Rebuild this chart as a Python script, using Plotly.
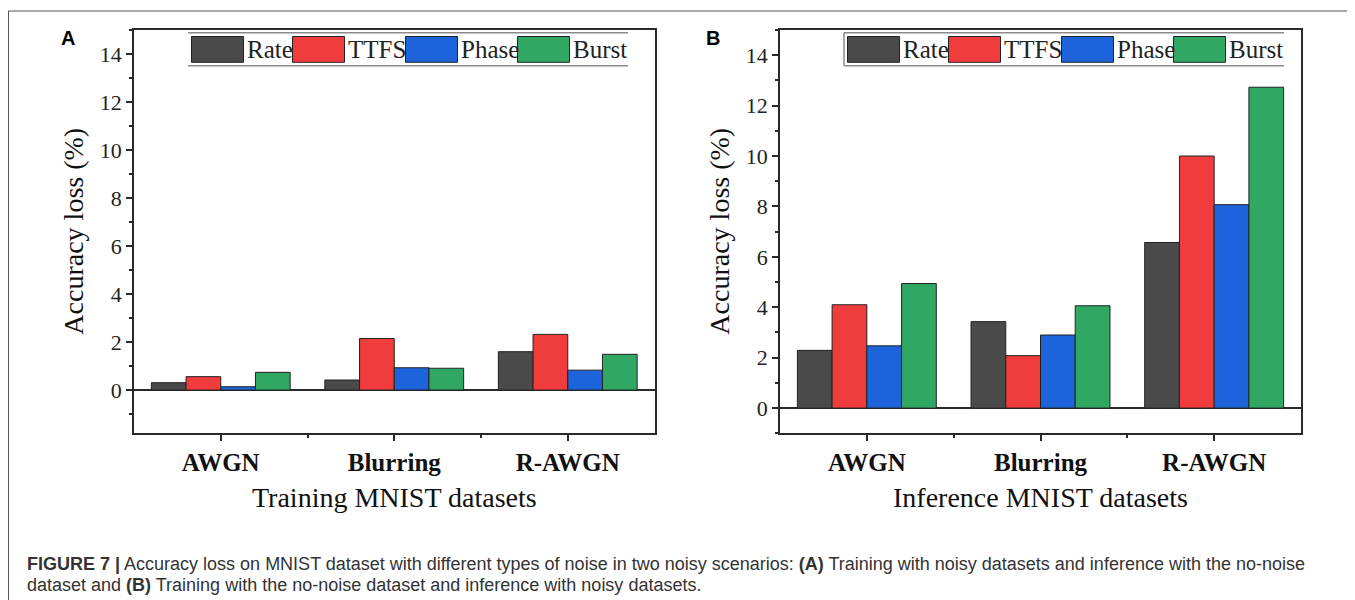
import plotly.graph_objects as go

# ---------------- data ----------------
categories = ["AWGN", "Blurring", "R-AWGN"]
series_names = ["Rate", "TTFS", "Phase", "Burst"]
training_rate = [0.31, 0.42, 1.60]
training_ttfs = [0.56, 2.15, 2.32]
training_phase = [0.14, 0.93, 0.83]
training_burst = [0.74, 0.91, 1.49]
inference_rate = [2.29, 3.43, 6.57]
inference_ttfs = [4.10, 2.08, 10.00]
inference_phase = [2.47, 2.90, 8.07]
inference_burst = [4.94, 4.06, 12.73]
y_ticks = [0, 2, 4, 6, 8, 10, 12, 14]
panel_labels = ["A", "B"]
x_titles = ["Training MNIST datasets", "Inference MNIST datasets"]
y_title = "Accuracy loss (%)"
caption_lines = [
    "<b>FIGURE 7 |</b> Accuracy loss on MNIST dataset with different types of noise in two noisy scenarios: "
    "<b>(A)</b> Training with noisy datasets and inference with the no-noise",
    "dataset and <b>(B)</b> Training with the no-noise dataset and inference with noisy datasets.",
]

# ---------------- style ----------------
W, H = 1355, 600
OFF = 8                      # browser default body margin
FW, FH = W - OFF, H - OFF    # figure size so the page fits the window exactly
colors = ["#4a4a4a", "#f03c3c", "#1d63d9", "#30a864"]
SERIF = "Liberation Serif, Times New Roman, serif"
SANS = "Liberation Sans, Arial, sans-serif"
AX = "#2a2a2a"

def px_x(v):
    return (v - OFF) / FW

def px_y(v):
    return 1 - (v - OFF) / FH

panels = [
    dict(xdom=(134, 654.5), yrange=[-1.8, 15], legend_left=188,
         data=[training_rate, training_ttfs, training_phase, training_burst],
         label_pos=(67.5, 38), show_left_legend_line=False),
    dict(xdom=(780, 1301), yrange=[-1, 15], legend_left=844,
         data=[inference_rate, inference_ttfs, inference_phase, inference_burst],
         label_pos=(713, 38), show_left_legend_line=True),
]
y_top, y_bot = 30, 433.3

fig = go.Figure()
x_idx = list(range(len(categories)))
annotations = []
shapes = []

for p, panel in enumerate(panels):
    sfx = "" if p == 0 else str(p + 1)
    for name, vals, col in zip(series_names, panel["data"], colors):
        fig.add_trace(go.Bar(
            x=x_idx, y=vals, name=name, showlegend=False,
            marker=dict(color=col, line=dict(color="#222222", width=1)),
            xaxis="x" + sfx, yaxis="y" + sfx,
        ))
    x0, x1 = panel["xdom"]
    fig.layout["xaxis" + sfx] = dict(
        domain=[px_x(x0), px_x(x1)], range=[-0.5, len(categories) - 0.5],
        anchor="y" + sfx, tickmode="array", tickvals=x_idx,
        ticktext=["<b>%s</b>" % c for c in categories],
        ticks="outside", ticklen=6, tickwidth=1.5, tickcolor=AX,
        minor=dict(tickmode="array", tickvals=[i + 0.5 for i in x_idx[:-1]],
                   ticks="outside", ticklen=3, tickwidth=1.5, tickcolor=AX),
        showline=True, mirror=True, linecolor=AX, linewidth=1.5,
        showgrid=False, zeroline=False, fixedrange=True,
        tickfont=dict(family=SERIF, size=25, color="#111111"),
    )
    fig.layout["yaxis" + sfx] = dict(
        domain=[px_y(y_bot), px_y(y_top)], range=panel["yrange"],
        anchor="x" + sfx, tickmode="array", tickvals=y_ticks,
        ticks="outside", ticklen=6, tickwidth=1.5, tickcolor=AX,
        minor=dict(dtick=1, tick0=0, ticks="outside", ticklen=3, tickwidth=1.5, tickcolor=AX),
        showline=True, mirror=True, linecolor=AX, linewidth=1.5,
        showgrid=False, zeroline=True, zerolinecolor=AX, zerolinewidth=2,
        fixedrange=True,
        tickfont=dict(family=SERIF, size=22, color="#222222"),
    )
    # axis titles
    annotations.append(dict(
        text=x_titles[p], xref="paper", yref="paper",
        x=px_x((x0 + x1) / 2), y=px_y(497), xanchor="center", yanchor="middle",
        showarrow=False, font=dict(family=SERIF, size=28, color="#111111"),
    ))
    annotations.append(dict(
        text=y_title, xref="paper", yref="paper", textangle=-90,
        x=px_x(x0 - 60), y=px_y((y_top + y_bot) / 2), xanchor="center", yanchor="middle",
        showarrow=False, font=dict(family=SERIF, size=28, color="#111111"),
    ))
    # panel label
    lx, ly = panel["label_pos"]
    annotations.append(dict(
        text="<b>%s</b>" % panel_labels[p], xref="paper", yref="paper",
        x=px_x(lx), y=px_y(ly), xanchor="center", yanchor="middle",
        showarrow=False, font=dict(family=SANS, size=20, color="#000000"),
    ))
    # custom legend
    L = panel["legend_left"]
    box_w, box_top, box_bot = 440, 32.7, 65.7
    shapes.append(dict(type="rect", xref="paper", yref="paper",
                       x0=px_x(L), x1=px_x(L + box_w), y0=px_y(box_bot), y1=px_y(box_top),
                       fillcolor="white", line=dict(width=0), layer="above"))
    for yy in (box_top, box_bot):
        shapes.append(dict(type="line", xref="paper", yref="paper",
                           x0=px_x(L), x1=px_x(L + box_w), y0=px_y(yy), y1=px_y(yy),
                           line=dict(color="#8a8a8a", width=1.5), layer="above"))
    if panel["show_left_legend_line"]:
        shapes.append(dict(type="line", xref="paper", yref="paper",
                           x0=px_x(L), x1=px_x(L), y0=px_y(box_bot), y1=px_y(box_top),
                           line=dict(color="#8a8a8a", width=1.5), layer="above"))
    offsets = [0, 101, 214, 326]
    sw_w, sw_top, sw_bot = 52, 36.5, 62.3
    for off, name, col in zip(offsets, series_names, colors):
        sx = L + 3.5 + off
        shapes.append(dict(type="rect", xref="paper", yref="paper",
                           x0=px_x(sx), x1=px_x(sx + sw_w), y0=px_y(sw_bot), y1=px_y(sw_top),
                           fillcolor=col, line=dict(color="#222222", width=1), layer="above"))
        annotations.append(dict(
            text=name, xref="paper", yref="paper",
            x=px_x(sx + sw_w + 1.5), y=px_y(49.5), xanchor="left", yanchor="middle",
            showarrow=False, font=dict(family=SERIF, size=25, color="#222222"),
        ))

# outer frame
shapes.append(dict(type="rect", xref="paper", yref="paper",
                   x0=px_x(8.5), x1=px_x(W + 10), y0=px_y(H + 10), y1=px_y(11),
                   line=dict(color="#555555", width=1), fillcolor="rgba(0,0,0,0)", layer="below"))

# caption
for i, line in enumerate(caption_lines):
    annotations.append(dict(
        text=line, xref="paper", yref="paper",
        x=px_x(25), y=px_y(564 + 21 * i), xanchor="left", yanchor="middle",
        showarrow=False, font=dict(family=SANS, size=18, color="#333333"),
    ))

fig.update_layout(
    width=FW, height=FH, margin=dict(l=0, r=0, t=0, b=0),
    paper_bgcolor="white", plot_bgcolor="white",
    barmode="group", bargap=0.2, bargroupgap=0,
    annotations=annotations, shapes=shapes,
)

fig.write_html("out.html")
